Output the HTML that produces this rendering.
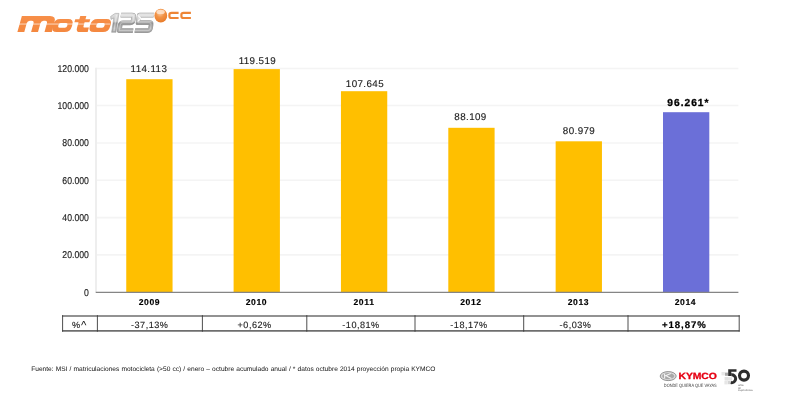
<!DOCTYPE html>
<html>
<head>
<meta charset="utf-8">
<title>Chart</title>
<style>
html,body{margin:0;padding:0;background:#fff;}
body{width:800px;height:400px;overflow:hidden;position:relative;font-family:"Liberation Sans",sans-serif;}
svg{position:absolute;left:0;top:0;will-change:transform;}
text{font-family:"Liberation Sans",sans-serif;text-rendering:geometricPrecision;}
.ax{font-size:9.9px;fill:#222;stroke:#222;stroke-width:0.15px;letter-spacing:0px;text-anchor:end;}
.dl{font-size:9.8px;fill:#1a1a1a;stroke:#1a1a1a;stroke-width:0.12px;letter-spacing:0.4px;text-anchor:middle;}
.dlb{font-size:10.2px;fill:#000;stroke:#000;stroke-width:0.3px;letter-spacing:1.0px;text-anchor:middle;font-weight:bold;}
.yr{font-size:8.6px;fill:#000;stroke:#000;stroke-width:0.15px;letter-spacing:0.6px;text-anchor:middle;font-weight:bold;}
.tb{font-size:9.1px;fill:#222;stroke:#222;stroke-width:0.12px;letter-spacing:0.5px;text-anchor:middle;}
.tbb{font-size:9.6px;fill:#000;stroke:#000;stroke-width:0.2px;letter-spacing:0.95px;text-anchor:middle;font-weight:bold;}
.ft{font-size:6.6px;fill:#111;letter-spacing:0px;word-spacing:0.3px;}
</style>
</head>
<body>
<svg width="800" height="400" viewBox="0 0 800 400">
<defs>
<linearGradient id="silver" x1="0" y1="0" x2="0" y2="1">
<stop offset="0" stop-color="#e4e4e4"/><stop offset="0.45" stop-color="#c4c4c4"/><stop offset="0.55" stop-color="#9a9a9a"/><stop offset="1" stop-color="#b4b4b4"/>
</linearGradient>
<radialGradient id="ball" cx="0.45" cy="0.3" r="0.7">
<stop offset="0" stop-color="#fbd0a8"/><stop offset="0.45" stop-color="#f29448"/><stop offset="1" stop-color="#e87a28"/>
</radialGradient>
</defs>
<rect width="800" height="400" fill="#fff"/>

<!-- gridlines -->
<g stroke="#f4f4f4" stroke-width="1.6">
<line x1="96" x2="738.4" y1="68.5" y2="68.5"/>
<line x1="96" x2="738.4" y1="105.5" y2="105.5"/>
<line x1="96" x2="738.4" y1="143" y2="143"/>
<line x1="96" x2="738.4" y1="180.3" y2="180.3"/>
<line x1="96" x2="738.4" y1="217.6" y2="217.6"/>
<line x1="96" x2="738.4" y1="254.9" y2="254.9"/>
<line x1="96" x2="96" y1="67.7" y2="292" stroke="#eeeeee" stroke-width="2"/>
</g>

<!-- bars -->
<g id="bars">
<rect x="126.25" y="79.2" width="46.3" height="213.3" fill="#ffbf00"/>
<rect x="233.60" y="69.1" width="46.3" height="223.4" fill="#ffbf00"/>
<rect x="340.95" y="91.2" width="46.3" height="201.3" fill="#ffbf00"/>
<rect x="448.30" y="127.8" width="46.3" height="164.7" fill="#ffbf00"/>
<rect x="555.65" y="141.3" width="46.3" height="151.2" fill="#ffbf00"/>
<rect x="663.00" y="112.2" width="46.3" height="180.3" fill="#6b6fd8"/>
</g>

<!-- baseline -->
<line x1="95.7" x2="738.4" y1="292.4" y2="292.4" stroke="#858585" stroke-width="1.2"/>

<!-- axis labels -->
<g class="ax">
<text transform="translate(88.9,71.55) scale(0.88,1)">120.000</text>
<text transform="translate(88.9,108.90) scale(0.88,1)">100.000</text>
<text transform="translate(88.9,146.25) scale(0.88,1)">80.000</text>
<text transform="translate(88.9,183.60) scale(0.88,1)">60.000</text>
<text transform="translate(88.9,220.95) scale(0.88,1)">40.000</text>
<text transform="translate(88.9,258.30) scale(0.88,1)">20.000</text>
<text transform="translate(88.9,295.65) scale(0.88,1)">0</text>
</g>

<!-- data labels -->
<text class="dl" x="148.9" y="72.3">114.113</text>
<text class="dl" x="257.4" y="63.8">119.519</text>
<text class="dl" x="364.9" y="87.3">107.645</text>
<text class="dl" x="470.5" y="119.7">88.109</text>
<text class="dl" x="579" y="133.9">80.979</text>
<text class="dlb" x="688.4" y="106.1">96.261*</text>

<!-- years -->
<text class="yr" x="149.5" y="305.3">2009</text>
<text class="yr" x="256.5" y="305.3">2010</text>
<text class="yr" x="364" y="305.3">2011</text>
<text class="yr" x="471" y="305.3">2012</text>
<text class="yr" x="578.5" y="305.3">2013</text>
<text class="yr" x="685.5" y="305.3">2014</text>

<!-- table -->
<g fill="none" stroke="#6e6e6e" stroke-width="1.7">
<line x1="62.1" x2="739.6" y1="316" y2="316"/>
<line x1="62.1" x2="739.6" y1="330.9" y2="330.9"/>
</g>
<g fill="none" stroke="#3a3a3a" stroke-width="0.9">
<line x1="62.6" x2="62.6" y1="315.2" y2="331.7"/>
<line x1="97.4" x2="97.4" y1="315.2" y2="331.7"/>
<line x1="202.4" x2="202.4" y1="315.2" y2="331.7"/>
<line x1="306.8" x2="306.8" y1="315.2" y2="331.7"/>
<line x1="415" x2="415" y1="315.2" y2="331.7"/>
<line x1="523.7" x2="523.7" y1="315.2" y2="331.7"/>
<line x1="628" x2="628" y1="315.2" y2="331.7"/>
<line x1="739.2" x2="739.2" y1="315.2" y2="331.7"/>
</g>
<text class="tb" x="79.4" y="327.6">%<tspan font-size="11.5" dy="1.3" dx="0.3" stroke="none">^</tspan></text>
<text class="tb" x="149.7" y="327.6">-37,13%</text>
<text class="tb" x="254.6" y="327.6">+0,62%</text>
<text class="tb" x="361" y="327.6">-10,81%</text>
<text class="tb" x="469" y="327.6">-18,17%</text>
<text class="tb" x="575.5" y="327.6">-6,03%</text>
<text class="tbb" x="684.3" y="327.6">+18,87%</text>

<!-- footer -->
<text class="ft" x="31.2" y="370.6">Fuente: MSI / matriculaciones motocicleta (&gt;50 cc) / enero – octubre acumulado anual / * datos octubre 2014 proyección propia KYMCO</text>


<!-- moto125cc logo -->
<defs>
<filter id="soft" x="-5%" y="-20%" width="110%" height="140%"><feGaussianBlur stdDeviation="0.3"/></filter>
<linearGradient id="sil" gradientUnits="userSpaceOnUse" x1="0" y1="-19" x2="0" y2="0">
<stop offset="0" stop-color="#e2e2e2"/><stop offset="0.42" stop-color="#c8c8c8"/><stop offset="0.52" stop-color="#929292"/><stop offset="0.8" stop-color="#b2b2b2"/><stop offset="1" stop-color="#a0a0a0"/>
</linearGradient>
<linearGradient id="org" gradientUnits="userSpaceOnUse" x1="0" y1="-16" x2="0" y2="0">
<stop offset="0" stop-color="#f78f48"/><stop offset="1" stop-color="#f48840"/>
</linearGradient>
</defs>
<g filter="url(#soft)"><g id="moto" transform="translate(17.4,32.1) skewX(-15.4)" fill="url(#org)">
<path d="M0,0 L0,-16.2 L28.2,-16.2 Q34.4,-16.2 34.4,-10 L34.4,0 L27.1,0 L27.1,-8.8 Q27.1,-11.3 24.6,-11.3 L23.1,-11.3 Q20.6,-11.3 20.6,-8.8 L20.6,0 L13.7,0 L13.7,-8.8 Q13.7,-11.3 11.2,-11.3 L9.4,-11.3 Q6.9,-11.3 6.9,-8.8 L6.9,0 Z"/>
<path fill-rule="evenodd" d="M39.20,-13.20 H47.30 Q52.90,-13.20 52.90,-7.60 V-5.60 Q52.90,0 47.30,0 H39.20 Q33.60,0 33.60,-5.60 V-7.60 Q33.60,-13.20 39.20,-13.20 Z M40.90,-9.00 Q39.10,-9.00 39.10,-7.20 V-6.20 Q39.10,-4.40 40.90,-4.40 H46.25 Q48.05,-4.40 48.05,-6.20 V-7.20 Q48.05,-9.00 46.25,-9.00 Z"/>
<path d="M58.4,-16.2 H64.5 V-12.9 H69.3 V-9.8 H64.5 V-5.6 Q64.5,-4.5 65.6,-4.5 H70.3 V0 H62.6 Q58.4,0 58.4,-4.2 V-9.8 H54.3 V-12.9 H58.4 Z"/>
<path fill-rule="evenodd" d="M76.40,-13.20 H85.60 Q91.20,-13.20 91.20,-7.60 V-5.60 Q91.20,0 85.60,0 H76.40 Q70.80,0 70.80,-5.60 V-7.60 Q70.80,-13.20 76.40,-13.20 Z M78.90,-9.00 Q77.10,-9.00 77.10,-7.20 V-6.20 Q77.10,-4.40 78.90,-4.40 H83.50 Q85.30,-4.40 85.30,-6.20 V-7.20 Q85.30,-9.00 83.50,-9.00 Z"/>
</g>
<rect x="17" y="23.5" width="93" height="1.1" fill="#fff" opacity="0.6"/>
<g id="n125" transform="translate(111.6,32.3) skewX(-8.8)">
<path d="M0,0 H4.4 V-18.9 H0.6 L-3.4,-15.9 L-2.6,-12.9 L0,-14.3 Z" fill="url(#sil)" stroke="#959595" stroke-width="0.5"/>
<path id="p2" d="M6.6,-17.2 H17.4 Q19.7,-17.2 19.7,-14.9 V-11.8 Q19.7,-9.5 17.4,-9.5 H9.8 Q7.5,-9.5 7.5,-7.2 V-1.7 H21.2" fill="none" stroke="#959595" stroke-width="4.7" stroke-linejoin="round"/>
<path d="M6.6,-17.2 H17.4 Q19.7,-17.2 19.7,-14.9 V-11.8 Q19.7,-9.5 17.4,-9.5 H9.8 Q7.5,-9.5 7.5,-7.2 V-1.7 H21.2" fill="none" stroke="url(#sil)" stroke-width="3.9" stroke-linejoin="round"/>
<path d="M39.6,-17.2 H25 V-9.6 H36 Q38.3,-9.6 38.3,-7.3 V-4 Q38.3,-1.7 36,-1.7 H23" fill="none" stroke="#959595" stroke-width="4.7" stroke-linejoin="round"/>
<path d="M39.6,-17.2 H25 V-9.6 H36 Q38.3,-9.6 38.3,-7.3 V-4 Q38.3,-1.7 36,-1.7 H23" fill="none" stroke="url(#sil)" stroke-width="3.9" stroke-linejoin="round"/>
<path d="M6.6,-17.2 H17.4 Q19.7,-17.2 19.7,-14.9 V-11.8 Q19.7,-9.5 17.4,-9.5 H9.8 Q7.5,-9.5 7.5,-7.2 V-1.7 H21.2" fill="none" stroke="#fff" stroke-opacity="0.35" stroke-width="1.1" stroke-linejoin="round"/>
<path d="M39.6,-17.2 H25 V-9.6 H36 Q38.3,-9.6 38.3,-7.3 V-4 Q38.3,-1.7 36,-1.7 H23" fill="none" stroke="#fff" stroke-opacity="0.35" stroke-width="1.1" stroke-linejoin="round"/>
<path d="M2.2,-1 V-17.5" stroke="#fff" stroke-opacity="0.45" stroke-width="1.3" fill="none"/>
</g>
<path d="M138.6,15.3 L142,18.4 L138.2,21.6 L137.2,21.6 L139.9,18.4 L137.4,15.3 Z" fill="#fff" opacity="0.9"/>
<ellipse cx="160.8" cy="15.7" rx="6.4" ry="6.9" fill="url(#ball)"/>
<ellipse cx="160.6" cy="11.9" rx="4.2" ry="2.2" fill="#fde4cf" opacity="0.85"/>
<g fill="none" stroke="#ee8534" stroke-width="2.15">
<path d="M178.6,12.8 H171.6 Q169.4,12.8 169.4,14.6 V16.2 Q169.4,18 171.6,18 H178.6"/>
<path d="M190.9,12.8 H183.6 Q181.4,12.8 181.4,14.6 V16.2 Q181.4,18 183.6,18 H190.9"/>
</g>

</g>
<!-- KYMCO logo -->
<ellipse cx="668.2" cy="376.1" rx="8" ry="4.5" fill="#d9d9d9" stroke="#8a8a8a" stroke-width="0.9"/>
<ellipse cx="668.2" cy="376.1" rx="6" ry="3.1" fill="#a8a8a8"/>
<path d="M664.6,373.8 V378.4 M664.8,376.1 L670.8,373.6 M666.4,375.9 L671.4,378.6" stroke="#f2f2f2" stroke-width="1.1" fill="none"/>
<text transform="translate(678.6,379) scale(1.155,1)" font-size="9" font-weight="bold" fill="#e60013" stroke="#e60013" stroke-width="0.3" letter-spacing="-0.1">KYMCO</text>
<text x="663.8" y="387" font-size="4.7" fill="#3c3c3c" textLength="52.9" lengthAdjust="spacingAndGlyphs">DONDE QUIERA QUE VAYAS</text>

<!-- 50 -->
<g fill="#e2e2e2">
<rect x="721.5" y="372" width="3.4" height="3.4" fill="#e8e8e8"/>
<rect x="724.6" y="377" width="3.4" height="3.6"/>
<rect x="727.6" y="377.2" width="4.5" height="3.4" fill="#e4e4e4"/>
<rect x="724.4" y="381" width="3.2" height="3.4" fill="#e6e6e6"/>
<rect x="727.8" y="381" width="3" height="3.2" fill="#d4d4d4"/>
</g>
<rect x="725" y="372.6" width="3.2" height="3.2" fill="#aaaaaa"/>
<path d="M728.2,369.2 H736.5 V371.7 H731.3 V375.9 H728.2 Z" fill="#2e2e2e"/>
<path d="M731.22,374.78 A3.95,3.95 0 1 1 730.81,382.55" fill="none" stroke="#2e2e2e" stroke-width="3"/>
<circle cx="744" cy="375.6" r="4.5" fill="none" stroke="#2e2e2e" stroke-width="3.1"/>
<text x="738" y="386.2" font-size="2.6" fill="#555">años</text>
<text x="738" y="388.8" font-size="2.6" fill="#555">de</text>
<text x="738" y="391.4" font-size="2.6" fill="#555" textLength="14.5" lengthAdjust="spacingAndGlyphs">experiencia</text>
</svg>
</body>
</html>
